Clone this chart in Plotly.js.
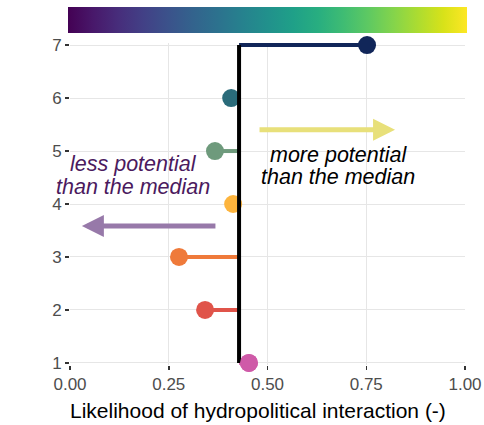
<!DOCTYPE html>
<html>
<head>
<meta charset="utf-8">
<script src="https://cdn.plot.ly/plotly-3.0.1.min.js"></script>
<style>html,body{margin:0;padding:0;background:#fff;}#chart{width:484px;height:425px;}</style>
</head>
<body>
<div id="chart"></div>
<script>
// Data
var levels = [1, 2, 3, 4, 5, 6, 7];
var likelihood = [0.453, 0.342, 0.276, 0.413, 0.367, 0.408, 0.752];
var pointColors = ['#cf5aa8', '#e0544a', '#ef7a3a', '#fdb43d', '#6e9a7c', '#2a6b7a', '#112659'];
var median = 0.428;
var xTicks = [0, 0.25, 0.5, 0.75, 1.0];
var xTickLabels = ['0.00', '0.25', '0.50', '0.75', '1.00'];
var yTicks = [1, 2, 3, 4, 5, 6, 7];
var xTitle = 'Likelihood of hydropolitical interaction (-)';

var traces = [];
// horizontal segments from median to each point
for (var i = 0; i < levels.length; i++) {
  traces.push({
    type: 'scatter', mode: 'lines',
    x: [median, likelihood[i]], y: [levels[i], levels[i]],
    line: {color: pointColors[i], width: 4},
    hoverinfo: 'skip', showlegend: false, cliponaxis: false
  });
}
// points
traces.push({
  type: 'scatter', mode: 'markers',
  x: likelihood, y: levels,
  marker: {color: pointColors, size: 18, line: {width: 0}},
  showlegend: false, cliponaxis: false
});
// median line
traces.push({
  type: 'scatter', mode: 'lines',
  x: [median, median], y: [levels[0], levels[levels.length - 1]],
  line: {color: '#000000', width: 4},
  showlegend: false, cliponaxis: false, hoverinfo: 'skip'
});
// re-draw bottom point above median line
traces.push({
  type: 'scatter', mode: 'markers',
  x: [likelihood[0]], y: [levels[0]],
  marker: {color: pointColors[0], size: 18},
  showlegend: false, cliponaxis: false, hoverinfo: 'skip'
});
// viridis colour bar at top
traces.push({
  type: 'scatter', mode: 'markers',
  x: [null], y: [null],
  marker: {
    color: [0], cmin: 0, cmax: 1, colorscale: 'Viridis', showscale: true,
    colorbar: {
      orientation: 'h', x: 0.5, xanchor: 'center', y: 1.032, yanchor: 'bottom',
      len: 1.01, lenmode: 'fraction', thickness: 26, thicknessmode: 'pixels',
      outlinewidth: 0, showticklabels: false, ticks: '', xpad: 0, ypad: 0
    }
  },
  showlegend: false, hoverinfo: 'skip'
});

var font = 'Liberation Sans, Arial, sans-serif';
var layout = {
  width: 484, height: 425,
  margin: {l: 70, r: 19, t: 43, b: 60, autoexpand: false},
  paper_bgcolor: '#ffffff', plot_bgcolor: '#ffffff',
  showlegend: false,
  font: {family: font},
  xaxis: {
    range: [0, 1], tickvals: xTicks, ticktext: xTickLabels,
    showgrid: true, gridcolor: '#e6e6e6', gridwidth: 1, zeroline: false, showline: false,
    ticks: 'outside', ticklen: 4, tickwidth: 1.5, tickcolor: '#333333',
    tickfont: {family: font, size: 17, color: '#4d4d4d'}
  },
  yaxis: {
    range: [0.96, 7.04], tickvals: yTicks,
    showgrid: true, gridcolor: '#e6e6e6', gridwidth: 1, zeroline: false, showline: false,
    ticks: 'outside', ticklen: 4, tickwidth: 1.5, tickcolor: '#333333',
    tickfont: {family: font, size: 17, color: '#4d4d4d'}
  },
  annotations: [
    {x: 0.476, y: -0.14, xref: 'paper', yref: 'paper', xanchor: 'center', yanchor: 'middle',
     text: xTitle, showarrow: false, font: {family: font, size: 21, color: '#000000'}},
    {x: 0.823, y: 5.40, ax: 0.476, ay: 5.40, xref: 'x', yref: 'y', axref: 'x', ayref: 'y',
     text: '', showarrow: true, arrowhead: 2, arrowsize: 0.88, arrowwidth: 5, arrowcolor: '#e8e07a', standoff: 0},
    {x: 0.03, y: 3.585, ax: 0.372, ay: 3.585, xref: 'x', yref: 'y', axref: 'x', ayref: 'y',
     text: '', showarrow: true, arrowhead: 2, arrowsize: 0.88, arrowwidth: 5, arrowcolor: '#9779a9', standoff: 0},
    {x: 0.680, y: 4.93, xref: 'x', yref: 'y', text: 'more potential', showarrow: false,
     font: {family: font, size: 21.5, color: '#000000', style: 'italic'}},
    {x: 0.679, y: 4.51, xref: 'x', yref: 'y', text: 'than the median', showarrow: false,
     font: {family: font, size: 21.5, color: '#000000', style: 'italic'}},
    {x: 0.161, y: 4.75, xref: 'x', yref: 'y', text: 'less potential', showarrow: false,
     font: {family: font, size: 21.5, color: '#4b1a5e', style: 'italic'}},
    {x: 0.160, y: 4.32, xref: 'x', yref: 'y', text: 'than the median', showarrow: false,
     font: {family: font, size: 21.5, color: '#4b1a5e', style: 'italic'}}
  ]
};

Plotly.newPlot('chart', traces, layout, {displayModeBar: false, staticPlot: true});
</script>
</body>
</html>
